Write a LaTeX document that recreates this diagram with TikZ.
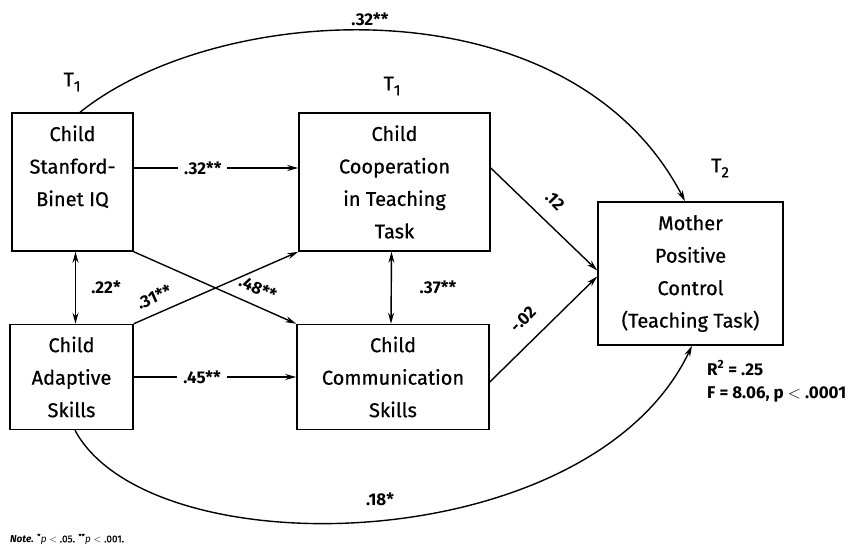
\documentclass[tikz,border=0pt]{standalone}
\usepackage{fontspec}
\setmainfont{Fira Sans}[UprightFeatures={FakeBold=0.6}]
\usetikzlibrary{arrows.meta}
\newcommand{\tsub}[1]{T\raisebox{-5pt}{\fontsize{15}{15}\selectfont #1}}
\begin{document}
\begin{tikzpicture}[x=1pt,y=-1pt,
  box/.style={draw, line width=1.5pt, align=center, inner sep=0pt,
    font=\fontsize{20}{32.5}\selectfont},
  coef/.style={font=\bfseries\fontsize{17}{20}\selectfont, inner sep=1pt},
  tip/.style={-{Stealth[length=11pt,width=6pt]}},
  link/.style={line width=1.4pt, tip},
  both/.style={line width=1.4pt, {Stealth[length=11pt,width=6pt]}-{Stealth[length=11pt,width=6pt]}},
  wave/.style={font=\fontsize{20}{22}\selectfont, inner sep=0pt},
  stat/.style={font=\bfseries\fontsize{17}{20}\selectfont, anchor=west, inner sep=0pt}]
\useasboundingbox (0,0) rectangle (861,548);

% measured variables
\node[box, minimum width=121pt, minimum height=138pt] (iq) at (72.5,182)
  {Child\\Stanford-\\Binet IQ\\\mbox{}};
\node[box, minimum width=191pt, minimum height=138pt] (coop) at (394.5,182)
  {Child\\Cooperation\\in Teaching\\Task};
\node[box, minimum width=123pt, minimum height=105pt] (adapt) at (71.5,377)
  {Child\\Adaptive\\Skills};
\node[box, minimum width=192pt, minimum height=105pt] (comm) at (393,377)
  {Child\\Communication\\Skills};
\node[box, minimum width=185pt, minimum height=143pt] (mother) at (690.5,273.5)
  {Mother\\Positive\\Control\\(Teaching Task)};

% measurement occasions
\node[wave] (t1a) at (72,82) {\tsub{1}};
\node[wave] (t1b) at (392,86) {\tsub{1}};
\node[wave] (t2) at (720,168) {\tsub{2}};

% direct paths
\draw[link] ([yshift=14pt]iq.east) -- node[coef, fill=white, pos=0.42, inner xsep=6pt] (p1) {.32**} ([yshift=14pt]coop.west);
\draw[link] (adapt.east) -- node[coef, fill=white, pos=0.42, inner xsep=6pt] (p2) {.45**} (comm.west);
\draw[link] (iq.south east) -- (comm.north west);
\draw[link] (adapt.north east) -- (coop.south west);
\draw[link] ([yshift=14pt]coop.east) -- ([yshift=3pt]mother.west);
\draw[link] ([yshift=-5pt]comm.east) -- ([yshift=-3pt]mother.west);

% correlations
\draw[both] ([xshift=3pt]iq.south) -- ([xshift=4pt]adapt.north);
\draw[both] ([xshift=-3pt]coop.south) -- ([xshift=-2pt]comm.north);

% long paths
\draw[link] ([xshift=7.5pt]iq.north) .. controls (220,0) and (570,-20) .. ([xshift=-5.5pt]mother.north);
\draw[link] ([xshift=3.5pt]adapt.south) .. controls (150,570) and (590,560) .. ([xshift=1.5pt]mother.south);

% coefficients
\node[coef] (c1) at (370,19) {.32**};
\node[coef] (c2) at (106,287) {.22*};
\node[coef] (c3) at (438,287) {.37**};
\node[coef, rotate=-24] (c4) at (258,288) {.48**};
\node[coef, rotate=24] (c5) at (154,297) {.31**};
\node[coef, rotate=-46] (c6) at (555,201) {.12};
\node[coef, rotate=45] (c7) at (523,319) {-.02};
\node[coef] (c8) at (380,499) {.18*};

% model fit
\node[stat] (r2) at (707,368) {R\textsuperscript{2} = .25};
\node[stat] (fstat) at (707,394) {F = 8.06, p $<$ .0001};

% footnote
\node[anchor=west, inner sep=0pt, font=\fontsize{10}{12}\selectfont] (note) at (10,539)
  {\textbf{\textit{Note.}} \textsuperscript{*}\textit{p} $<$ .05. \textsuperscript{**}\textit{p} $<$ .001.};
\end{tikzpicture}
\end{document}
